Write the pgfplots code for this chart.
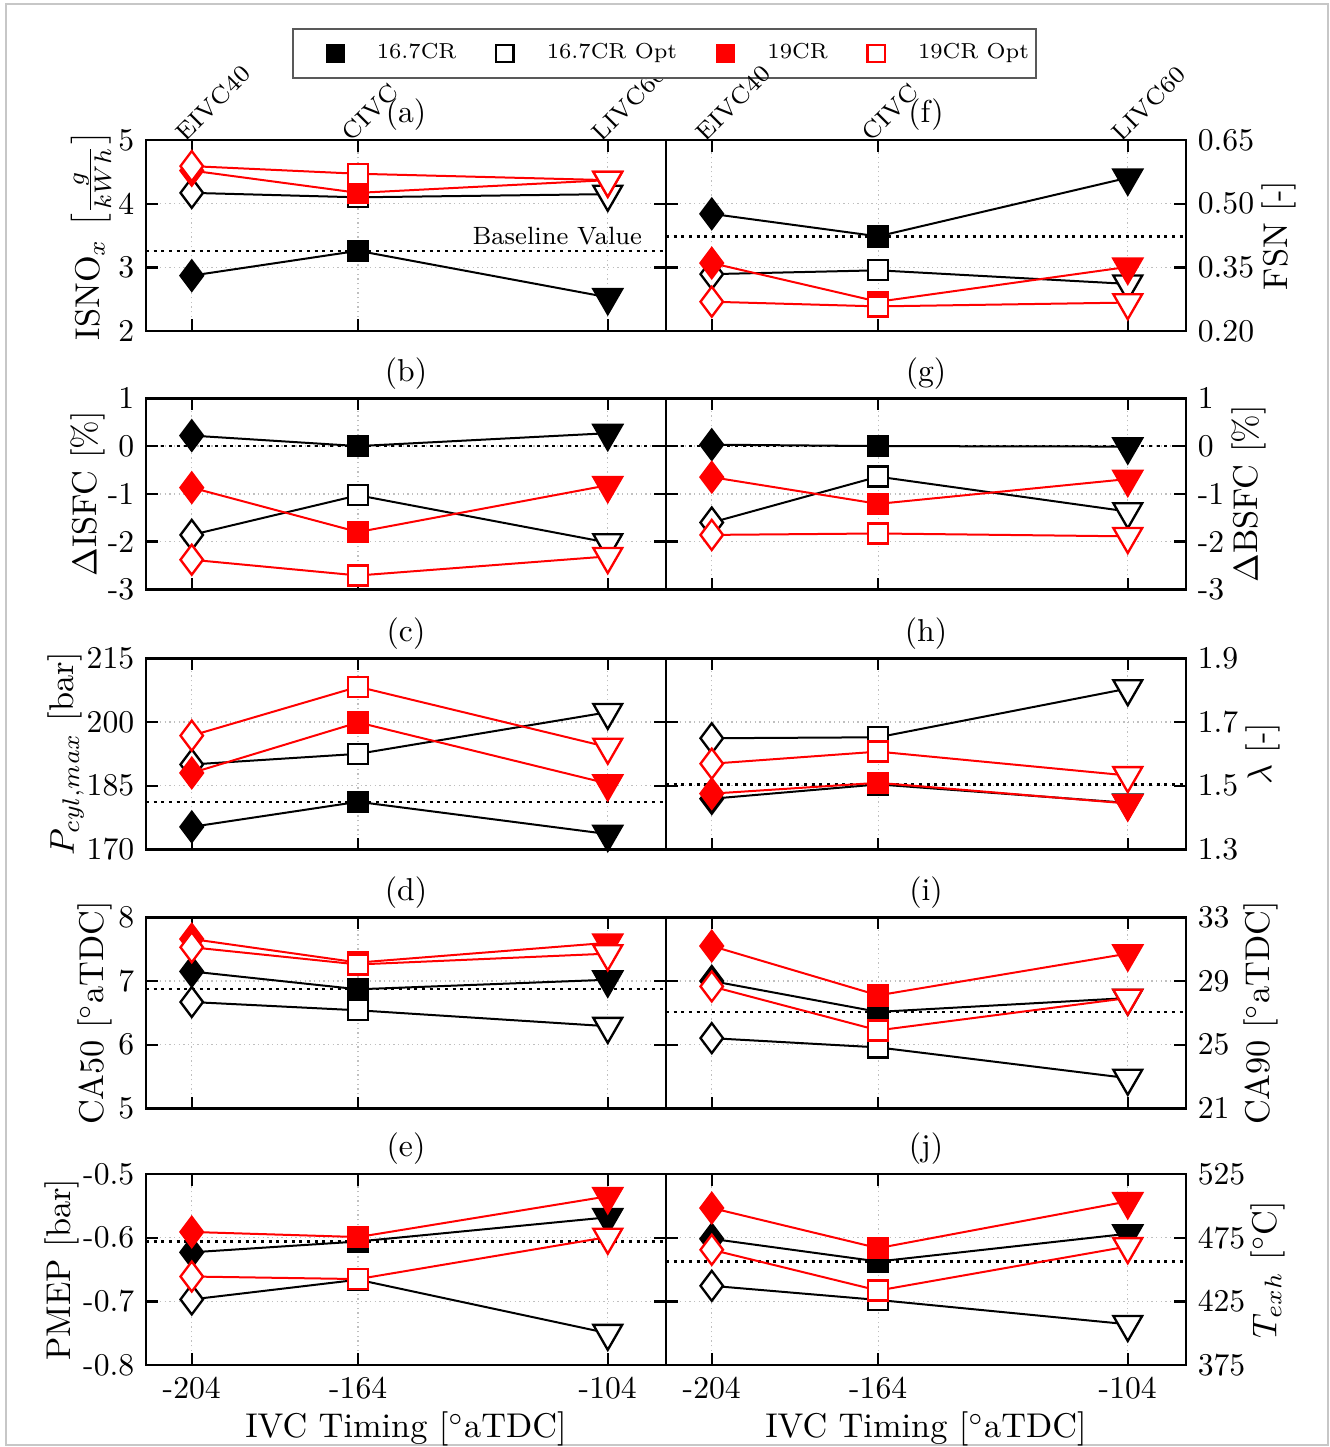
\documentclass[border=0pt]{standalone}
\usepackage{fix-cm}
\usepackage{fontspec}
\usepackage{pgfplots}
\usepackage{pgfplotstable}
\pgfplotsset{compat=1.18}

\newcommand{\tfont}{\fontsize{9.5}{11}\selectfont}
\newcommand{\lfont}{\fontsize{10.3}{12}\selectfont}

\pgfplotsset{
 panel/.style={scale only axis, width=156pt, height=57.3pt, xmin=-215, xmax=-90,
   xtick={-204,-164,-104}, xticklabels={}, tick align=inside, major tick length=3.5pt,
   xmajorgrids, ymajorgrids, grid style={densely dotted, black!25, line width=0.4pt},
   axis line style={line width=0.7pt}, every tick/.style={black, line width=0.7pt},
   tick label style={font=\tfont}, label style={font=\lfont}, anchor=south west, clip=false},
 L/.style={panel, at={(43.8pt,#1)}},
 R/.style={panel, at={(199.8pt,#1)}, yticklabel pos=right},
 toprow/.style={xtick pos=both, xticklabel pos=upper, xticklabels={EIVC40,CIVC,LIVC60},
   x tick label style={rotate=45, anchor=south west, inner sep=0pt, xshift=-2pt, yshift=0.5pt, font=\fontsize{7.2}{8.5}\selectfont}},
 botrow/.style={xticklabels={-204,-164,-104}, xlabel={IVC Timing [$^\circ$aTDC]}, xlabel style={yshift=3pt}},
 myleg/.style={legend image code/.code={\path (-12.3pt,0pt) (10.3pt,0pt); \draw[##1] plot coordinates {(0pt,0pt)};}},
}

\newcommand{\ser}[4]{%
\addplot[#3, line width=0.6pt, forget plot, mark=diamond*, mark size=4.5pt, mark indices={1}, mark options={solid, line width=0.7pt, draw=#3, fill=#4}] table[x=x,y=#2]{#1};
\addplot[#3, only marks, forget plot, mark=square*, mark size=3pt, mark indices={2}, mark options={solid, line width=0.7pt, draw=#3, fill=#4}] table[x=x,y=#2]{#1};
\addplot[#3, only marks, forget plot, mark=triangle*, mark size=5pt, mark indices={3}, mark options={solid, line width=0.7pt, draw=#3, fill=#4, rotate=180}] table[x=x,y=#2]{#1};
}
\newcommand{\allser}[1]{%
\ser{#1}{bf}{black}{black}
\ser{#1}{bo}{black}{white}
\ser{#1}{rf}{red}{red}
\ser{#1}{ro}{red}{white}
}
\newcommand{\base}[1]{\addplot[black, line width=0.7pt, dash pattern=on 0.9pt off 1.4pt, forget plot] coordinates {(-215,#1) (-90,#1)};}
\newcommand{\ttl}[1]{\node[font=\tfont, anchor=south, yshift=-0.8pt] at (rel axis cs:0.5,1) {#1};}
% y-axis label: shifted horizontally first, then rotated
\newcommand{\ylab}[3]{\node[font=\lfont, xshift=#2, rotate=90, anchor=center] at (rel axis cs:#1,0.5) {#3};}

\pgfplotstableread{
x bf bo rf ro
-204 2.87 4.17 4.52 4.59
-164 3.26 4.10 4.17 4.47
-104 2.53 4.15 4.37 4.37
}\tA
\pgfplotstableread{
x bf bo rf ro
-204 0.476 0.334 0.360 0.269
-164 0.423 0.343 0.269 0.258
-104 0.561 0.311 0.351 0.267
}\tF
\pgfplotstableread{
x bf bo rf ro
-204 0.22 -1.86 -0.87 -2.38
-164 0.00 -1.03 -1.80 -2.71
-104 0.27 -2.02 -0.82 -2.31
}\tB
\pgfplotstableread{
x bf bo rf ro
-204 0.03 -1.60 -0.65 -1.86
-164 0.00 -0.64 -1.21 -1.83
-104 -0.01 -1.37 -0.69 -1.89
}\tG
\pgfplotstableread{
x bf bo rf ro
-204 175.3 190.0 188.0 196.8
-164 181.2 192.5 199.9 208.3
-104 173.6 202.3 185.5 194.1
}\tC
\pgfplotstableread{
x bf bo rf ro
-204 1.459 1.649 1.475 1.569
-164 1.504 1.652 1.509 1.607
-104 1.446 1.805 1.444 1.532
}\tH
\pgfplotstableread{
x bf bo rf ro
-204 7.15 6.67 7.66 7.53
-164 6.87 6.54 7.29 7.26
-104 7.02 6.29 7.60 7.43
}\tD
\pgfplotstableread{
x bf bo rf ro
-204 29.00 25.41 31.20 28.66
-164 27.06 24.83 28.10 25.90
-104 27.93 22.90 30.72 27.93
}\tI
\pgfplotstableread{
x bf bo rf ro
-204 -0.623 -0.697 -0.591 -0.661
-164 -0.606 -0.666 -0.599 -0.665
-104 -0.568 -0.750 -0.535 -0.599
}\tE
\pgfplotstableread{
x bf bo rf ro
-204 474.1 437.2 498.3 465.5
-164 456.3 426.1 466.8 433.5
-104 478.1 407.0 503.5 468.1
}\tJ

\begin{document}
\begin{tikzpicture}
\useasboundingbox (0pt,0pt) rectangle (399pt,-434.1pt);
\draw[black!22, line width=0.6pt] (1.8pt,-1.2pt) rectangle (398.4pt,-433.5pt);

% (a)
\begin{axis}[L=-99.3pt, toprow, ymin=2, ymax=5, ytick={2,3,4,5}, yticklabels={2,3,4,5},
  legend style={at={(0.997,1.453)}, anchor=center, legend columns=4, draw=black!65, line width=0.5pt,
    font=\fontsize{6.5}{8}\selectfont,
    /tikz/every odd column/.append style={column sep=0pt},
    /tikz/every even column/.append style={column sep=0pt},
    inner xsep=0pt, inner ysep=2.3pt},
  legend entries={16.7CR,16.7CR Opt,19CR,19CR Opt}]
\addlegendimage{black, mark=square*, mark size=2.6pt, mark options={solid}, myleg}
\addlegendimage{black, mark=square*, mark size=2.6pt, mark options={solid, fill=white, line width=0.7pt}, myleg}
\addlegendimage{red, mark=square*, mark size=2.6pt, mark options={solid}, myleg}
\addlegendimage{red, mark=square*, mark size=2.6pt, mark options={solid, fill=white, line width=0.7pt}, myleg}
\base{3.26}
\allser{\tA}
\node[font=\fontsize{7.5}{9}\selectfont, anchor=south east, inner sep=1pt] at (axis cs:-94.8,3.28) {Baseline Value};
\ttl{(a)}
\ylab{0}{-16.5pt}{ISNO$_x$ $\left[\frac{g}{kWh}\right]$}
\end{axis}

% (f)
\begin{axis}[R=-99.3pt, toprow, ymin=0.2, ymax=0.65, ytick={0.2,0.35,0.5,0.65}, yticklabels={0.20,0.35,0.50,0.65}]
\base{0.423}
\allser{\tF}
\ttl{(f)}
\ylab{1}{28pt}{FSN [-]}
\end{axis}

% (b)
\begin{axis}[L=-176.8pt, ymin=-3, ymax=1, ytick={-3,-2,-1,0,1}, yticklabels={-3,-2,-1,0,1}]
\base{0}
\allser{\tB}
\ttl{(b)}
\ylab{0}{-17.4pt}{$\Delta$ISFC [\%]}
\end{axis}

% (g)
\begin{axis}[R=-176.8pt, ymin=-3, ymax=1, ytick={-3,-2,-1,0,1}, yticklabels={-3,-2,-1,0,1}]
\base{0}
\allser{\tG}
\ttl{(g)}
\ylab{1}{19pt}{$\Delta$BSFC [\%]}
\end{axis}

% (c)
\begin{axis}[L=-254.8pt, ymin=170, ymax=215, ytick={170,185,200,215}, yticklabels={170,185,200,215}]
\base{181.2}
\allser{\tC}
\ttl{(c)}
\ylab{0}{-24pt}{$P_{cyl,max}$ [bar]}
\end{axis}

% (h)
\begin{axis}[R=-254.8pt, ymin=1.3, ymax=1.9, ytick={1.3,1.5,1.7,1.9}, yticklabels={1.3,1.5,1.7,1.9}]
\base{1.504}
\allser{\tH}
\ttl{(h)}
\ylab{1}{23pt}{$\lambda$ [-]}
\end{axis}

% (d)
\begin{axis}[L=-332.5pt, ymin=5, ymax=8, ytick={5,6,7,8}, yticklabels={5,6,7,8}]
\base{6.87}
\allser{\tD}
\ttl{(d)}
\ylab{0}{-15.3pt}{CA50 [$^\circ$aTDC]}
\end{axis}

% (i)
\begin{axis}[R=-332.5pt, ymin=21, ymax=33, ytick={21,25,29,33}, yticklabels={21,25,29,33}]
\base{27.06}
\allser{\tI}
\ttl{(i)}
\ylab{1}{22.5pt}{CA90 [$^\circ$aTDC]}
\end{axis}

% (e)
\begin{axis}[L=-409.5pt, botrow, ymin=-0.8, ymax=-0.5, ytick={-0.8,-0.7,-0.6,-0.5}, yticklabels={-0.8,-0.7,-0.6,-0.5}]
\base{-0.606}
\allser{\tE}
\ttl{(e)}
\ylab{0}{-25.2pt}{PMEP [bar]}
\end{axis}

% (j)
\begin{axis}[R=-409.5pt, botrow, ymin=375, ymax=525, ytick={375,425,475,525}, yticklabels={375,425,475,525}]
\base{456.3}
\allser{\tJ}
\ttl{(j)}
\ylab{1}{24.5pt}{$T_{exh}$ [$^\circ$C]}
\end{axis}
\end{tikzpicture}
\end{document}
